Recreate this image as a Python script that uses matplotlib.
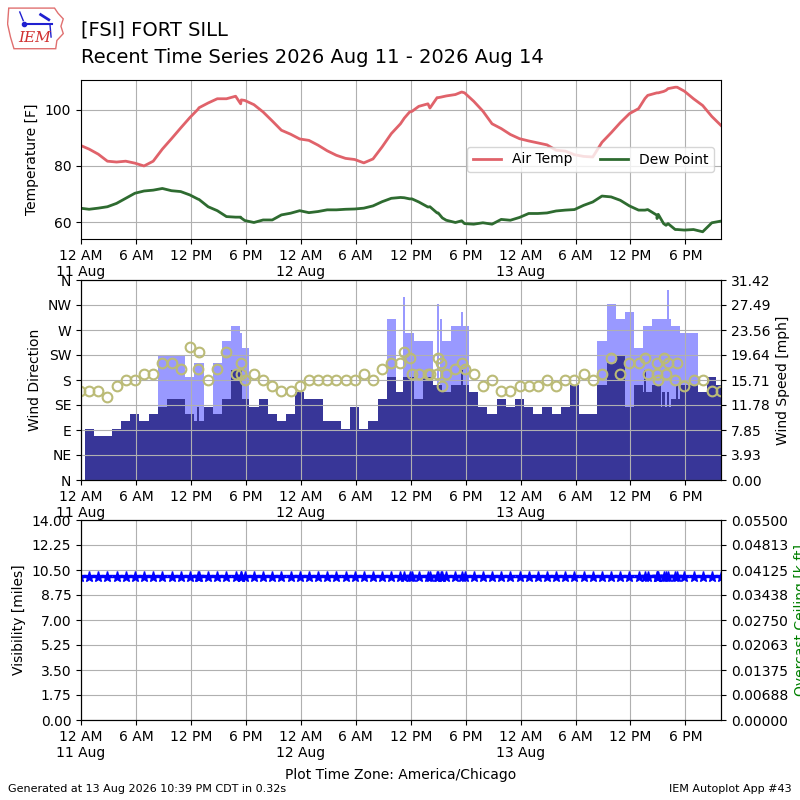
import numpy as np
import pandas as pd
import matplotlib
matplotlib.use('Agg')
import matplotlib.pyplot as plt
import matplotlib.dates as mdates
from matplotlib.ticker import FuncFormatter, FormatStrFormatter
from matplotlib.patches import Polygon

KT2MPH = 1.15078
G = np.nan

# routine observations at :53 past each hour
hourly_times = pd.date_range('2026-08-10 23:53', '2026-08-13 21:53', freq='h')

hourly_tmpf = [87.4, 86.0, 84.2, 81.7, 81.4, 81.7, 81.0, 80.0, 81.7, 86.0,
               89.7, 93.5, 97.2, 100.7, 102.4, 103.9, 103.9, 104.8, 103.3, 101.8,
               99.2, 96.0, 92.7, 91.3, 89.6, 89.1, 87.4, 85.4, 83.8, 82.7,
               82.3, 81.1, 82.5, 86.8, 91.5, 95.0, 99.2, 101.2, 102.1, 104.3,
               104.9, 105.4, 106.0, 103.0, 99.5, 95.0, 93.3, 91.2, 89.7, 88.9,
               88.2, 87.5, 85.6, 85.3, 84.0, 83.4, 83.2, 88.4, 91.8, 95.4,
               98.6, 100.4, 105.1, 106.0, 106.9, 108.0, 106.6, 103.9, 101.5, 97.6,
               94.4]
hourly_dwpf = [65.0, 64.6, 65.0, 65.5, 66.7, 68.5, 70.3, 71.1, 71.4, 72.0,
               71.2, 70.9, 69.7, 68.1, 65.5, 64.1, 62.0, 61.8, 60.6, 59.9,
               60.8, 60.8, 62.6, 63.2, 64.1, 63.4, 63.8, 64.4, 64.4, 64.6,
               64.7, 65.0, 65.8, 67.3, 68.5, 68.8, 68.3, 67.2, 65.4, 63.3,
               60.7, 59.9, 59.5, 59.3, 59.8, 59.3, 61.0, 60.7, 61.7, 63.1,
               63.1, 63.3, 64.0, 64.3, 64.5, 66.0, 67.2, 69.3, 69.0, 67.8,
               65.8, 64.3, 64.5, 62.5, 58.9, 57.4, 57.2, 57.4, 56.6, 59.8,
               60.4]
# wind speed / gust in knots
hourly_sknt = [G,
               7, 6, 6, 7, 8, 9, 8, 9, 10, 11,
               11, 9, 8, 10, 9, 11, 15, 11, 10, 11,
               9, 8, 9, 12, 11, 11, 8, 8, 7, 10,
               7, 8, 11, 14, 12, 14, 11, 14, 13, 12,
               13, 13, 12, 10, 9, 11, 10, 11, 10, 9,
               10, 9, 10, 13, 9, 9, 13, 16, 17, 10,
               13, 12, 13, 10, 11, 13, 13, 12, 14, 13]
hourly_gust = [G,
               G, G, G, G, G, G, G, G, 17, 17,
               17, 14, 16, G, 16, 19, 21, 18, G, G,
               G, G, G, G, G, G, G, G, G, G,
               G, G, G, 22, G, 20, 19, 19, G, 19,
               21, 21, G, G, G, G, G, G, G, G,
               G, G, G, G, G, G, 19, 24, 22, 23,
               18, 21, 22, 22, 21, 20, 20, G, G, G]
hourly_drct = [160,
               160, 160, 150, 170, 180, 180, 190, 190, 210, 210,
               200, 240, 230, 180, 200, 230, 190, 180, 190, 180,
               170, 160, 160, 170, 180, 180, 180, 180, 180, 180,
               190, 180, 200, 210, 210, 220, 190, 190, 190, 190,
               200, 200, 190, 170, 180, 160, 160, 170, 170, 170,
               180, 170, 180, 180, 190, 180, 190, 220, 190, 210,
               210, 190, 190, 190, 180, 170, 180, 180, 160, 160]

# special observations
special_times = pd.to_datetime([
    '2026-08-11 12:47', '2026-08-11 17:26', '2026-08-11 17:30',
    '2026-08-12 11:18', '2026-08-12 12:08', '2026-08-12 14:06',
    '2026-08-12 15:00', '2026-08-12 15:20', '2026-08-12 15:28',
    '2026-08-12 17:34', '2026-08-13 13:35', '2026-08-13 14:54',
    '2026-08-13 15:02', '2026-08-13 15:37', '2026-08-13 16:06',
    '2026-08-13 17:06'])
special_tmpf = [100.2, 102.1, 103.5, 97.0, 99.4, 100.6, 104.3, 104.5, 104.6,
                106.3, 104.0, 106.0, 106.0, 106.5, 107.5, 108.0]
special_dwpf = [68.2, 61.8, 61.5, 68.7, 68.3, 65.5, 63.3, 62.0, 61.5,
                60.5, 64.3, 61.3, 62.8, 59.5, 59.5, 57.4]
special_sknt = [10, 15, 11, 14, 11, 14, 13, 12, 12, 15, 15, 13, 13, 12, 12, 13]
special_gust = [16, 20, 18, 25, 19, 19, 24, 22, 19, 23, 21, 22, 22, 22, 26, 20]
special_drct = [200, 210, 190, 230, 190, 190, 220, 210, 170, 210, 220, 210,
                180, 220, 210, 210]

VSBY_MILES = 10.0  # every report shows 10 miles

hourly = pd.DataFrame({'tmpf': hourly_tmpf, 'dwpf': hourly_dwpf,
                       'sknt': hourly_sknt, 'gust': hourly_gust,
                       'drct': hourly_drct}, index=hourly_times)
special = pd.DataFrame({'tmpf': special_tmpf, 'dwpf': special_dwpf,
                        'sknt': special_sknt, 'gust': special_gust,
                        'drct': special_drct}, index=special_times)
df = pd.concat([hourly, special]).sort_index()
df['vsby'] = VSBY_MILES

xmin = pd.Timestamp('2026-08-11 00:00')
xmax = pd.Timestamp('2026-08-13 21:53')


def timefmt(x, pos=None):
    dt = mdates.num2date(x)
    if dt.hour == 0:
        return "12 AM\n%d Aug" % dt.day
    if dt.hour == 12:
        return "12 PM"
    if dt.hour < 12:
        return "%d AM" % dt.hour
    return "%d PM" % (dt.hour - 12)


def setup_x(ax):
    ax.set_xlim(xmin, xmax)
    ax.xaxis.set_major_locator(mdates.HourLocator(byhour=[0, 6, 12, 18]))
    ax.xaxis.set_major_formatter(FuncFormatter(timefmt))


fig = plt.figure(figsize=(8, 8), dpi=100)

# logo
lax = fig.add_axes([0.00875, 0.9375, 0.0725, 0.054])
lax.add_patch(Polygon([(0.03, 0.97), (0.82, 0.97), (0.88, 0.85), (0.97, 0.72),
                       (0.93, 0.55), (0.97, 0.38), (0.86, 0.22), (0.84, 0.03),
                       (0.12, 0.03), (0.06, 0.3), (0.01, 0.6)],
                      closed=True, fill=False, ec='#e07070', lw=1))
lax.plot([0.3, 0.78], [0.6, 0.6], color='#2020d0', lw=1.5)
lax.plot([0.3], [0.6], 'o', color='#2020d0', ms=3)
lax.plot([0.58, 0.72], [0.82, 0.7], color='#2020d0', lw=2)
lax.plot([0.22, 0.28], [0.88, 0.68], color='#2020d0', lw=1)
lax.plot([0.74, 0.76], [0.6, 0.3], color='#2020d0', lw=1)
lax.text(0.47, 0.28, 'IEM', color='#d03030', fontsize=11, style='italic',
         family='serif', ha='center', va='center')
lax.set_xlim(0, 1)
lax.set_ylim(0, 1)
lax.axis('off')

fig.text(0.10125, 0.955, "[FSI] FORT SILL", fontsize=14, va='baseline')
fig.text(0.10125, 0.921, "Recent Time Series 2026 Aug 11 - 2026 Aug 14",
         fontsize=14, va='baseline')

# temperature panel
ax1 = fig.add_axes([0.10125, 0.70125, 0.8, 0.19875])
ax1.plot(df.index, df['tmpf'], color='#e0626a', lw=2, label='Air Temp')
ax1.plot(df.index, df['dwpf'], color='#2e6b30', lw=2, label='Dew Point')
ax1.set_ylabel("Temperature [F]")
ax1.grid(True)
ax1.legend(loc='center right', ncol=2)
setup_x(ax1)

# wind panel
ax_s = fig.add_axes([0.10125, 0.4, 0.8, 0.25])
hg = hourly.dropna(subset=['gust'])
ax_s.bar(hg.index, hg['gust'] * KT2MPH, width=1 / 24., color='#9999ff')
ax_s.bar(special.index, special['gust'] * KT2MPH, width=0.25 / 24.,
         color='#9999ff')
hs = hourly.dropna(subset=['sknt'])
ax_s.bar(hs.index, hs['sknt'] * KT2MPH, width=1 / 24., color='#383698')
ax_s.bar(special.index, special['sknt'] * KT2MPH, width=0.25 / 24.,
         color='#383698')
ymax = df['gust'].max() * KT2MPH * 1.05
ax_s.set_ylim(0, ymax)
ax_s.set_yticks(np.linspace(0, ymax, 9))
ax_s.yaxis.set_major_formatter(FormatStrFormatter('%.2f'))
ax_s.set_axisbelow(False)
ax_s.grid(True)
setup_x(ax_s)

ax_d = ax_s.twinx()
ax_d.plot(df.index, df['drct'], 'o', mfc='none', mec='#bbbb77', ms=7, mew=1.5)
ax_d.set_ylim(0, 360)
ax_d.set_yticks(range(0, 361, 45))
ax_d.set_yticklabels(['N', 'NE', 'E', 'SE', 'S', 'SW', 'W', 'NW', 'N'])
setup_x(ax_d)

ax_s.yaxis.tick_right()
ax_s.yaxis.set_label_position('right')
ax_s.set_ylabel("Wind Speed [mph]")
ax_d.yaxis.tick_left()
ax_d.yaxis.set_label_position('left')
ax_d.set_ylabel("Wind Direction")

# visibility panel
ax3 = fig.add_axes([0.10125, 0.1, 0.8, 0.25])
ax3.plot(df.index, df['vsby'], marker='*', color='b', ms=8, lw=1)
ax3.set_ylim(0, 14)
ax3.set_yticks(np.linspace(0, 14, 9))
ax3.yaxis.set_major_formatter(FormatStrFormatter('%.2f'))
ax3.set_ylabel("Visibility [miles]")
ax3.grid(True)
ax3.set_xlabel("Plot Time Zone: America/Chicago", labelpad=6)
setup_x(ax3)

ax3r = ax3.twinx()
ax3r.set_ylim(0, 0.055)
ax3r.set_yticks(np.linspace(0, 0.055, 9))
ax3r.yaxis.set_major_formatter(FormatStrFormatter('%.5f'))
ax3r.set_ylabel("Overcast Ceiling [k ft]", color='g')

fig.text(0.01, 0.0075, "Generated at 13 Aug 2026 10:39 PM CDT in 0.32s",
         fontsize=8, va='bottom')
fig.text(0.99, 0.0075, "IEM Autoplot App #43", fontsize=8, ha='right',
         va='bottom')

fig.savefig('out.png')
